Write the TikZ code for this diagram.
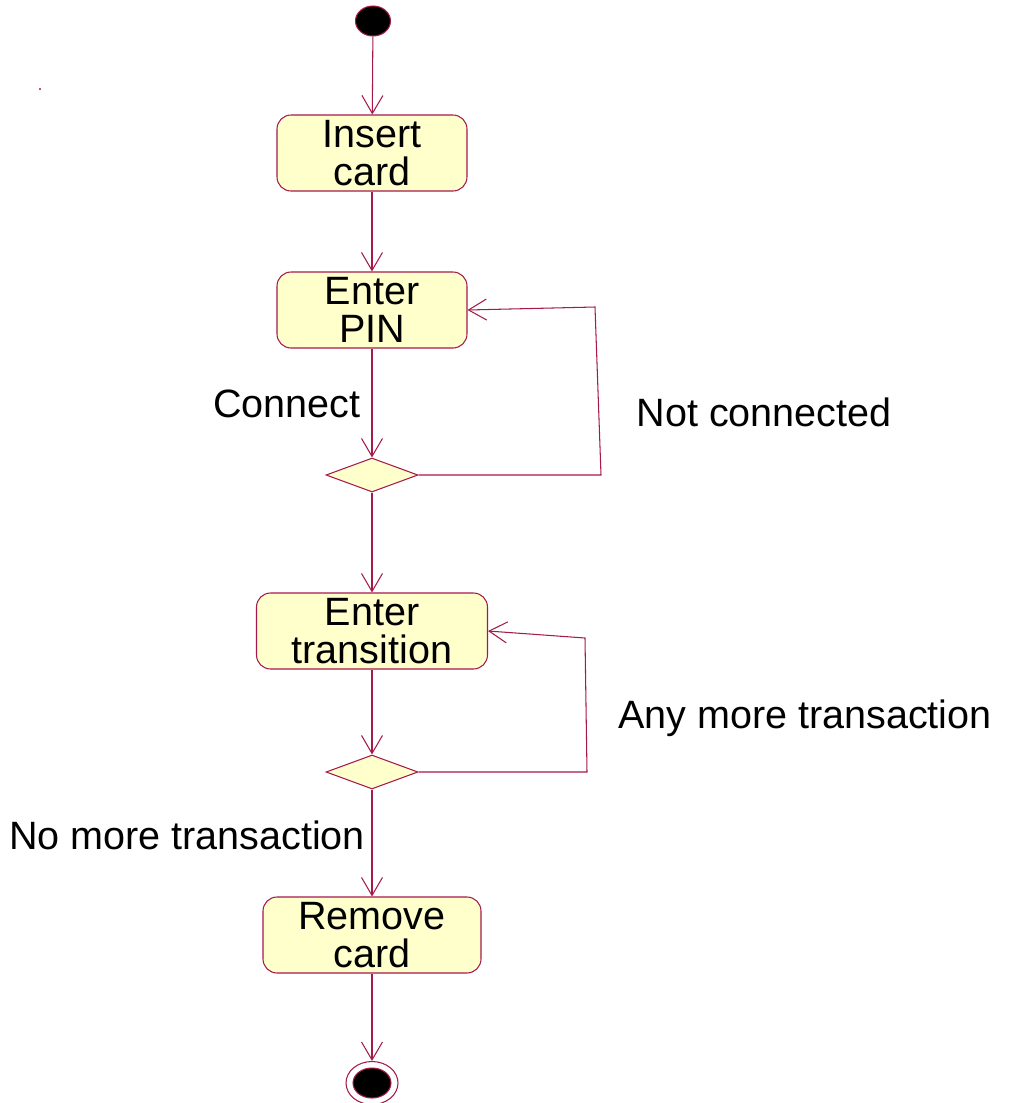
\documentclass[tikz,border=0pt]{standalone}
\usepackage{fontspec}
\setmainfont{Liberation Sans}
\usetikzlibrary{shapes.geometric,arrows.meta}
\definecolor{umlline}{RGB}{165,25,75}
\definecolor{umlfill}{RGB}{255,255,204}
\begin{document}
\begin{tikzpicture}[x=0.02cm,y=-0.02cm,
		line width=0.6pt,
		act/.style={draw=umlline,fill=umlfill,rounded corners=0.28cm,align=center,
			minimum height=1.52cm,inner sep=0pt,font=\fontsize{22.5}{22}\selectfont},
		branch/.style={diamond,draw=umlline,fill=umlfill,minimum width=1.84cm,
			minimum height=0.68cm,inner sep=0pt},
		flow/.style={draw=umlline,-{Straight Barb[length=0.36cm,width=0.42cm]}},
		lbl/.style={font=\fontsize{22.5}{22}\selectfont,inner sep=0pt}]
	\useasboundingbox (0,0) rectangle (1011,1103);
	% stray dot
	\fill[umlline] (40,89) circle (0.6pt);
	% start
		\node[ellipse,draw=umlline,fill=black,minimum width=0.7cm,minimum height=0.6cm] (start) at (373,21) {};
	% activities
		\node[act,minimum width=3.8cm] (insert) at (372,153) {Insert\\ card};
		\node[act,minimum width=3.8cm] (pin) at (372,310) {Enter\\ PIN};
		\node[branch] (check) at (372,475) {};
		\node[act,minimum width=4.62cm] (trans) at (372,631) {Enter\\ transition};
		\node[branch] (more) at (372,772) {};
		\node[act,minimum width=4.36cm] (remove) at (372,935) {Remove\\ card};
	% end
		\node[ellipse,draw=umlline,minimum width=1.04cm,minimum height=0.86cm] (stopout) at (372,1083) {};
		\node[ellipse,draw=umlline,fill=black,minimum width=0.76cm,minimum height=0.6cm] (stopin) at (372,1083) {};
	% flows
		\draw[flow] (start) -- (insert);
		\draw[flow] (insert) -- (pin);
		\draw[flow] (pin) -- (check);
		\draw[flow] (check) -- (trans);
		\draw[flow] (trans) -- (more);
		\draw[flow] (more) -- (remove);
		\draw[flow] (remove) -- (stopout);
	% loops
		\draw[flow] (check.east) -- (601,475) -- (595,307) -- (pin.east);
		\draw[flow] (more.east) -- (587,772) -- (585,638) -- (trans.east);
	% guards
		\node[lbl] (lconnect) at (287,404) {Connect};
		\node[lbl] (lnot) at (764,412) {Not connected};
		\node[lbl] (lany) at (805,718) {Any more transaction};
		\node[lbl] (lno) at (187,835) {No more transaction};
\end{tikzpicture}
\end{document}
